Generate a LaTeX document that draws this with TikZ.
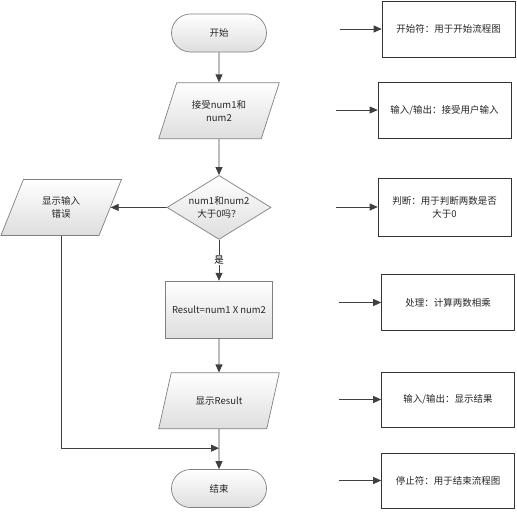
\documentclass[tikz,border=0pt]{standalone}
\usepackage{fontspec}
\setmainfont{Noto Sans CJK SC}
\usetikzlibrary{positioning, arrows.meta, shapes.geometric}

\definecolor{linegray}{HTML}{404040}
\definecolor{edgegray}{HTML}{808080}
\definecolor{shadegray}{HTML}{DEDEDE}

\begin{document}
\begin{tikzpicture}[
    x=1pt, y=1pt,
    % Define styles for the flow shapes, the notes and the arrows
    font=\fontsize{9.5}{13}\selectfont,
    shade/.style={top color=white, bottom color=shadegray, draw=edgegray, line width=0.7pt, text=black!85, align=center},
    terminal/.style={shade, rectangle, rounded corners=19pt, minimum width=95pt, minimum height=38pt},
    io/.style={shade, trapezium, trapezium left angle=65, trapezium right angle=115, trapezium stretches=true, minimum width=121pt, minimum height=56pt},
    decision/.style={shade, diamond, aspect=1.6, inner sep=1pt, minimum width=104pt, minimum height=64pt},
    process/.style={shade, rectangle, minimum width=107pt, minimum height=57pt},
    note/.style={draw=black!80, line width=0.6pt, fill=white, rectangle, align=center, text=black!85, minimum width=133pt, minimum height=56pt},
    arrow/.style={-{Triangle[length=8pt, width=7pt]}, draw=linegray, line width=0.8pt},
    flowlabel/.style={fill=white, inner sep=1pt}
]
    \useasboundingbox (0,0) rectangle (517,-512);

    % Define the flow nodes
    \node[terminal] (start) at (219,-33) {开始};

    \node[io, below=30pt of start] (input) {接受num1和\\num2};

    \node[decision, below=36pt of input] (check) {num1和num2\\大于0吗？};

    \node[io, left=56pt of check] (error) {显示输入\\错误};

    \node[process, below=41pt of check] (multiply) {Result=num1 X num2};

    \node[io, below=34pt of multiply] (output) {显示Result};

    \node[terminal, below=40pt of output] (stop) {结束};

    \coordinate[below=19pt of output] (merge);

    % Define the notes on the right
    \node[note] (startnote) at (448.5,-29) {开始符：用于开始流程图};
    \node[note] (inputnote) at (444.5,-110) {输入/输出：接受用户输入};
    \node[note, minimum height=58pt] (checknote) at (444.5,-207) {判断：用于判断两数是否\\大于0};
    \node[note] (multiplynote) at (448,-302.5) {处理：计算两数相乘};
    \node[note, minimum height=55pt] (outputnote) at (448,-399.5) {输入/输出：显示结果};
    \node[note, minimum height=55pt] (stopnote) at (448,-480.5) {停止符：用于结束流程图};

    \coordinate[left=42pt of startnote] (startin);
    \coordinate[left=42pt of inputnote] (inputin);
    \coordinate[left=42pt of checknote] (checkin);
    \coordinate[left=42pt of multiplynote] (multiplyin);
    \coordinate[left=42pt of outputnote] (outputin);
    \coordinate[left=42pt of stopnote] (stopin);

    % Draw the flow arrows
    \draw[arrow] (start) -- (input);

    \draw[arrow] (input) -- (check);

    \draw[arrow] (check) -- (error);

    \draw[arrow] (check) -- node[flowlabel] {是} (multiply);

    \draw[arrow] (multiply) -- (output);

    \draw[arrow] (output) -- (stop);

    \draw[arrow] (error) |- (merge);

    % Draw the arrows into the notes
    \draw[arrow] (startin) -- (startnote);
    \draw[arrow] (inputin) -- (inputnote);
    \draw[arrow] (checkin) -- (checknote);
    \draw[arrow] (multiplyin) -- (multiplynote);
    \draw[arrow] (outputin) -- (outputnote);
    \draw[arrow] (stopin) -- (stopnote);
\end{tikzpicture}
\end{document}
